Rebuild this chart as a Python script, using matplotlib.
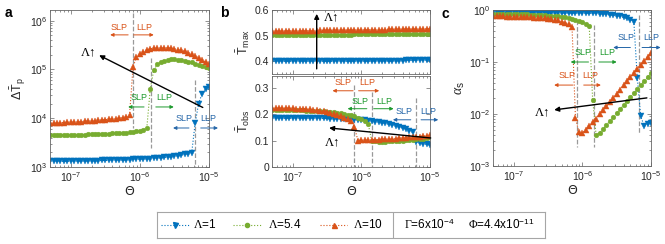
import numpy as np
import matplotlib
matplotlib.use('Agg')
import matplotlib.pyplot as plt

plt.rcParams['font.family'] = ['Liberation Sans', 'DejaVu Sans']
plt.rcParams['mathtext.fontset'] = 'custom'
plt.rcParams['mathtext.rm'] = 'Liberation Serif'
plt.rcParams['mathtext.it'] = 'Liberation Serif:italic'
plt.rcParams['mathtext.sf'] = 'Liberation Sans'
plt.rcParams['axes.linewidth'] = 0.6
plt.rcParams['axes.edgecolor'] = '0.4'

# ---- data ----
LOG_THETA = [-7.30, -7.25, -7.20, -7.15, -7.10, -7.05, -7.00, -6.95, -6.90, -6.85,
             -6.80, -6.75, -6.70, -6.65, -6.60, -6.55, -6.50, -6.45, -6.40, -6.35,
             -6.30, -6.25, -6.20, -6.15, -6.10, -6.05, -6.00, -5.95, -5.90, -5.85,
             -5.80, -5.75, -5.70, -5.65, -5.60, -5.55, -5.50, -5.45, -5.40, -5.35,
             -5.30, -5.25, -5.20, -5.15, -5.10, -5.05, -5.00]

LAMBDAS = ['1', '5.4', '10']

# Delta T_p, in thousands
DTP_L1 = [1.30, 1.30, 1.30, 1.31, 1.31, 1.31, 1.32, 1.32, 1.32, 1.33,
          1.33, 1.34, 1.34, 1.35, 1.35, 1.36, 1.36, 1.37, 1.38, 1.38,
          1.39, 1.40, 1.41, 1.42, 1.43, 1.44, 1.45, 1.46, 1.48, 1.49,
          1.51, 1.53, 1.55, 1.57, 1.60, 1.63, 1.67, 1.71, 1.76, 1.82,
          1.89, 1.97, 8.0, 20.0, 32.0, 40.0, 43.0]
DTP_L5 = [4.50, 4.50, 4.51, 4.52, 4.53, 4.54, 4.55, 4.57, 4.58, 4.60,
          4.62, 4.64, 4.66, 4.69, 4.72, 4.75, 4.78, 4.82, 4.86, 4.91,
          4.96, 5.02, 5.09, 5.17, 5.27, 5.39, 5.55, 5.78, 6.30, 40.0,
          95.0, 128, 140, 150, 156, 160, 160, 158, 155, 150,
          145, 139, 132, 125, 118, 111, 105]
DTP_L10 = [8.0, 8.0, 8.05, 8.1, 8.15, 8.2, 8.25, 8.3, 8.4, 8.5,
           8.6, 8.7, 8.8, 8.9, 9.0, 9.15, 9.3, 9.45, 9.6, 9.8,
           10.0, 10.3, 10.7, 11.5, 110, 180, 210, 232, 250, 263,
           272, 277, 279, 278, 275, 270, 263, 255, 245, 233,
           220, 205, 190, 174, 158, 143, 128]

TMAX_L1 = [0.400, 0.400, 0.400, 0.400, 0.400, 0.400, 0.400, 0.400, 0.400, 0.400,
           0.400, 0.400, 0.400, 0.400, 0.400, 0.400, 0.400, 0.400, 0.400, 0.400,
           0.400, 0.400, 0.400, 0.400, 0.400, 0.400, 0.400, 0.400, 0.400, 0.400,
           0.400, 0.400, 0.401, 0.401, 0.401, 0.401, 0.402, 0.402, 0.402, 0.403,
           0.403, 0.403, 0.404, 0.404, 0.404, 0.405, 0.405]
TMAX_L5 = [0.503, 0.503, 0.503, 0.503, 0.503, 0.503, 0.503, 0.503, 0.503, 0.503,
           0.503, 0.503, 0.503, 0.503, 0.503, 0.504, 0.504, 0.504, 0.504, 0.504,
           0.504, 0.504, 0.504, 0.504, 0.505, 0.505, 0.505, 0.505, 0.505, 0.505,
           0.505, 0.505, 0.505, 0.506, 0.506, 0.506, 0.506, 0.506, 0.506, 0.506,
           0.507, 0.507, 0.507, 0.507, 0.507, 0.507, 0.507]
TMAX_L10 = [0.517, 0.517, 0.517, 0.517, 0.518, 0.518, 0.518, 0.518, 0.518, 0.519,
            0.519, 0.519, 0.519, 0.519, 0.520, 0.520, 0.520, 0.520, 0.520, 0.521,
            0.521, 0.521, 0.521, 0.521, 0.522, 0.522, 0.522, 0.522, 0.522, 0.523,
            0.523, 0.523, 0.523, 0.523, 0.524, 0.524, 0.524, 0.524, 0.524, 0.525,
            0.525, 0.525, 0.525, 0.525, 0.526, 0.526, 0.526]

TOBS_L1 = [0.185, 0.185, 0.185, 0.185, 0.185, 0.185, 0.185, 0.185, 0.185, 0.185,
           0.185, 0.185, 0.185, 0.184, 0.184, 0.184, 0.184, 0.183, 0.183, 0.183,
           0.182, 0.182, 0.181, 0.181, 0.180, 0.179, 0.178, 0.177, 0.176, 0.174,
           0.172, 0.170, 0.168, 0.165, 0.162, 0.159, 0.156, 0.152, 0.148, 0.143,
           0.138, 0.132, 0.096, 0.092, 0.089, 0.086, 0.084]
TOBS_L5 = [0.216, 0.216, 0.216, 0.216, 0.216, 0.216, 0.215, 0.215, 0.215, 0.215,
           0.214, 0.214, 0.213, 0.213, 0.212, 0.211, 0.210, 0.209, 0.208, 0.206,
           0.204, 0.202, 0.199, 0.196, 0.192, 0.187, 0.181, 0.174, 0.164, 0.100,
           0.097, 0.096, 0.096, 0.096, 0.097, 0.097, 0.098, 0.099, 0.100, 0.101,
           0.102, 0.103, 0.105, 0.106, 0.108, 0.110, 0.112]
TOBS_L10 = [0.223, 0.223, 0.223, 0.223, 0.222, 0.222, 0.222, 0.221, 0.221, 0.220,
            0.219, 0.218, 0.217, 0.215, 0.213, 0.211, 0.208, 0.205, 0.201, 0.197,
            0.192, 0.187, 0.181, 0.174, 0.152, 0.100, 0.101, 0.101, 0.102, 0.103,
            0.103, 0.104, 0.105, 0.105, 0.106, 0.107, 0.108, 0.109, 0.110, 0.111,
            0.112, 0.113, 0.114, 0.115, 0.117, 0.118, 0.120]

ALPHA_L1 = [0.90, 0.90, 0.90, 0.90, 0.90, 0.90, 0.90, 0.90, 0.89, 0.89,
            0.89, 0.89, 0.89, 0.89, 0.89, 0.89, 0.88, 0.88, 0.88, 0.88,
            0.88, 0.88, 0.88, 0.88, 0.87, 0.87, 0.87, 0.87, 0.87, 0.86,
            0.86, 0.85, 0.84, 0.83, 0.81, 0.79, 0.77, 0.75, 0.72, 0.69,
            0.65, 0.60, 0.050, 0.0090, 0.0060, 0.0063, 0.0068]
ALPHA_L5 = [0.84, 0.84, 0.84, 0.84, 0.83, 0.83, 0.83, 0.83, 0.82, 0.82,
            0.82, 0.81, 0.81, 0.80, 0.80, 0.79, 0.78, 0.77, 0.76, 0.75,
            0.74, 0.72, 0.70, 0.68, 0.65, 0.62, 0.59, 0.55, 0.50, 0.019,
            0.0040, 0.0044, 0.0051, 0.0062, 0.0072, 0.0087, 0.0105, 0.0123, 0.0148, 0.0178,
            0.0214, 0.0251, 0.0302, 0.0363, 0.0427, 0.0513, 0.0617]
ALPHA_L10 = [0.75, 0.75, 0.75, 0.75, 0.74, 0.74, 0.74, 0.74, 0.73, 0.73,
             0.72, 0.72, 0.71, 0.70, 0.70, 0.69, 0.68, 0.66, 0.65, 0.63,
             0.60, 0.57, 0.53, 0.47, 0.0083, 0.0045, 0.0043, 0.0050, 0.0059, 0.0069,
             0.0081, 0.0098, 0.0118, 0.0141, 0.0170, 0.0204, 0.0245, 0.0295, 0.0355, 0.0427,
             0.0513, 0.0617, 0.0741, 0.0891, 0.105, 0.126, 0.148]

theta = 10.0 ** np.array(LOG_THETA)

BLUE, GREEN, ORANGE = '#0072BD', '#77AC30', '#D95319'
TXT_BLUE, TXT_GREEN = '#2566A8', '#1E9A2E'
STYLES = [('v', BLUE, 4.0), ('o', GREEN, 3.4), ('^', ORANGE, 4.0)]

W, H = 665, 244


def box(l, t, r, b):
    return [l / W, 1 - b / H, (r - l) / W, (b - t) / H]


def style_axes(ax, xlabels=True):
    ax.set_xscale('log')
    ax.set_xlim(5e-8, 1e-5)
    ax.set_xticks([1e-7, 1e-6, 1e-5])
    ax.tick_params(which='both', direction='in', top=True, right=True,
                   labelsize=7.5, labelcolor='0.15', color='0.4', width=0.5, pad=2)
    ax.tick_params(which='major', length=3)
    ax.tick_params(which='minor', length=1.5)
    if xlabels:
        ax.set_xlabel('Θ', fontsize=9, color='0.15', labelpad=1,
                      family=['DejaVu Sans'])
    else:
        ax.tick_params(axis='x', which='both', labelbottom=False)


def plot_series(ax, ys, scale=1.0):
    for (m, c, ms), y in zip(STYLES, ys):
        ax.plot(theta, np.array(y) * scale, ls=':', lw=0.8, color=c,
                marker=m, ms=ms, mec=c, mfc=c, mew=0.3)


def regime(ax, xs, xl, ys, ya, l0, l1, r0, r1, color):
    ax.text(xs, ys, 'SLP', color=color, fontsize=6.5, ha='center', va='center')
    ax.text(xl, ys, 'LLP', color=color, fontsize=6.5, ha='center', va='center')
    ap = dict(arrowstyle='-|>', color=color, lw=0.7, mutation_scale=5, shrinkA=0, shrinkB=0)
    ax.annotate('', xy=(l1, ya), xytext=(l0, ya), arrowprops=ap, annotation_clip=False)
    ax.annotate('', xy=(r1, ya), xytext=(r0, ya), arrowprops=ap, annotation_clip=False)


def gray_line(ax, x, y0, y1):
    ax.plot([x, x], [y0, y1], ls='--', color='0.6', lw=0.9, zorder=1)


def lam_arrow(ax, tail, head, label_xy, ha='center'):
    ax.annotate('', xy=head, xytext=tail,
                arrowprops=dict(arrowstyle='-|>', color='k', lw=1.0, mutation_scale=7,
                                shrinkA=0, shrinkB=0))
    ax.text(label_xy[0], label_xy[1], 'Λ↑', fontsize=9, ha=ha, va='center',
            family=['Liberation Serif', 'DejaVu Serif'])


fig = plt.figure(figsize=(W / 100, H / 100), dpi=100)

# ---- panel a ----
ax_a = fig.add_axes(box(50, 10, 209, 167))
style_axes(ax_a)
ax_a.set_yscale('log')
ax_a.set_ylim(1e3, 1.65e6)
ax_a.set_yticks([1e3, 1e4, 1e5, 1e6])
for x, y0, y1 in [(10 ** -6.10, 1.4e6, 6.3e3), (10 ** -5.84, 1.7e5, 2.4e3), (10 ** -5.20, 6e4, 1e3)]:
    gray_line(ax_a, x, y0, y1)
plot_series(ax_a, [DTP_L1, DTP_L5, DTP_L10], 1e3)
ax_a.set_ylabel(r'$\mathdefault{\Delta\bar{T}_p}$', fontsize=9, color='0.15', labelpad=1)
regime(ax_a, 10 ** -6.30, 10 ** -5.94, 7.2e5, 5.1e5, 10 ** -6.17, 10 ** -6.43,
       10 ** -6.09, 10 ** -5.80, ORANGE)
regime(ax_a, 10 ** -6.01, 10 ** -5.65, 2.6e4, 1.7e4, 10 ** -5.94, 10 ** -6.17,
       10 ** -5.77, 10 ** -5.51, TXT_GREEN)
regime(ax_a, 10 ** -5.36, 10 ** -5.01, 1.0e4, 6.3e3, 10 ** -5.29, 10 ** -5.52,
       10 ** -5.12, 10 ** -4.87, TXT_BLUE)
lam_arrow(ax_a, (10 ** -5.09, 1.66e4), (10 ** -6.59, 1.95e5), (10 ** -6.75, 2.2e5))

# ---- panel b ----
ax_b1 = fig.add_axes(box(272, 10, 430, 74))
style_axes(ax_b1, xlabels=False)
ax_b1.set_ylim(0.35, 0.6)
ax_b1.set_yticks([0.4, 0.5, 0.6])
ax_b1.set_yticklabels(['0.4', '0.5', '0.6'])
plot_series(ax_b1, [TMAX_L1, TMAX_L5, TMAX_L10])
ax_b1.set_ylabel(r'$\mathdefault{\bar{T}_{max}}$', fontsize=9, color='0.15', labelpad=2)
lam_arrow(ax_b1, (10 ** -6.65, 0.37), (10 ** -6.65, 0.585), (10 ** -6.44, 0.572))

ax_b2 = fig.add_axes(box(272, 76, 430, 167))
style_axes(ax_b2)
ax_b2.set_ylim(0, 0.345)
ax_b2.set_yticks([0, 0.1, 0.2, 0.3])
ax_b2.set_yticklabels(['0', '0.1', '0.2', '0.3'])
for x, y0 in [(10 ** -6.10, 0.31), (10 ** -5.84, 0.285), (10 ** -5.20, 0.262)]:
    gray_line(ax_b2, x, y0, 0)
plot_series(ax_b2, [TOBS_L1, TOBS_L5, TOBS_L10])
ax_b2.set_ylabel(r'$\mathdefault{\bar{T}_{obs}}$', fontsize=9, color='0.15', labelpad=2)
regime(ax_b2, 10 ** -6.27, 10 ** -5.91, 0.319, 0.289, 10 ** -6.12, 10 ** -6.42,
       10 ** -6.04, 10 ** -5.74, ORANGE)
regime(ax_b2, 10 ** -6.02, 10 ** -5.67, 0.247, 0.221, 10 ** -5.92, 10 ** -6.20,
       10 ** -5.82, 10 ** -5.53, TXT_GREEN)
regime(ax_b2, 10 ** -5.38, 10 ** -5.03, 0.209, 0.179, 10 ** -5.28, 10 ** -5.54,
       10 ** -5.13, 10 ** -4.88, TXT_BLUE)
lam_arrow(ax_b2, (10 ** -4.99, 0.11), (10 ** -6.47, 0.148), (10 ** -6.42, 0.095))

# ---- panel c ----
ax_c = fig.add_axes(box(493, 10, 651, 166))
style_axes(ax_c)
ax_c.set_yscale('log')
ax_c.set_ylim(1e-3, 1)
ax_c.set_yticks([1e-3, 1e-2, 1e-1, 1])
for x, l0, l1 in [(-6.08, -0.19, -2.63), (-5.83, -0.29, -2.63), (-5.17, -0.10, -2.37)]:
    gray_line(ax_c, 10 ** x, 10 ** l0, 10 ** l1)
plot_series(ax_c, [ALPHA_L1, ALPHA_L5, ALPHA_L10])
ax_c.set_ylabel(r'$\alpha_{\mathdefault{s}}$', fontsize=10, color='0.15', labelpad=1)
regime(ax_c, 10 ** -5.99, 10 ** -5.63, 0.149, 0.10, 10 ** -5.91, 10 ** -6.17,
       10 ** -5.76, 10 ** -5.50, TXT_GREEN)
regime(ax_c, 10 ** -6.22, 10 ** -5.89, 0.054, 0.036, 10 ** -6.14, 10 ** -6.41,
       10 ** -5.98, 10 ** -5.73, ORANGE)
regime(ax_c, 10 ** -5.36, 10 ** -4.99, 0.30, 0.19, 10 ** -5.30, 10 ** -5.55,
       10 ** -5.13, 10 ** -4.86, TXT_BLUE)
lam_arrow(ax_c, (10 ** -5.06, 0.0204), (10 ** -6.41, 0.012), (10 ** -6.58, 0.011))

# panel letters
for x, y, s in [(8, 13, 'a'), (224, 13, 'b'), (445, 14, 'c')]:
    fig.text(x / W, 1 - y / H, s, fontsize=10, weight='bold', ha='center', va='center')

# ---- legend box ----
lax = fig.add_axes(box(157, 212, 545, 238))
lax.set_xlim(0, 388)
lax.set_ylim(0, 26)
lax.set_xticks([])
lax.set_yticks([])
for s in lax.spines.values():
    s.set_color('0.65')
    s.set_linewidth(0.8)
lax.axvline(236, color='0.65', lw=0.8)
for (m, c, ms), lam, (x0, x1, xm, xt) in zip(STYLES, LAMBDAS,
                                              [(4, 33, 18, 36), (76, 105, 90, 111), (163, 190, 177, 196)]):
    lax.plot([x0, x1], [13, 13], ls=':', lw=0.8, color=c)
    lax.plot([xm], [13], marker=m, ms=ms - 0.4, color=c, mec=c)
    lax.text(xt, 13, r'$\Lambda$=' + lam, fontsize=8.5, ha='left', va='center')
lax.text(247, 13, r'$\Gamma$=6x10$^{\mathdefault{-4}}$', fontsize=8.5, ha='left', va='center')
lax.text(311, 13, r'$\Phi$=4.4x10$^{\mathdefault{-11}}$', fontsize=8.5, ha='left', va='center')

fig.savefig('out.png', dpi=100)
